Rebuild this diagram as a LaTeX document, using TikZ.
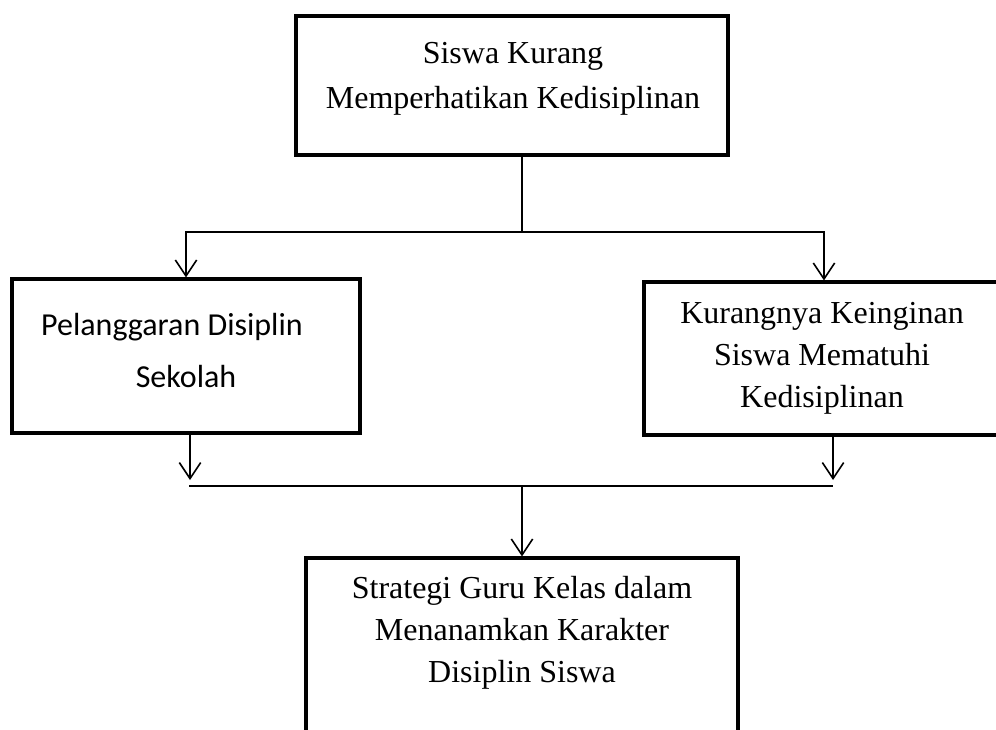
\documentclass[tikz,border=0pt]{standalone}
\usepackage{fontspec}
\setmainfont{Liberation Serif}
\newfontfamily\calibri{Carlito}
\usetikzlibrary{arrows.meta}
\begin{document}
\begin{tikzpicture}[x=0.75pt,y=-0.75pt,
  box/.style={draw, line width=2.4pt, rectangle, inner sep=0pt},
  conn/.style={line width=1.2pt},
  arr/.style={conn, -{Straight Barb[length=12pt,width=16pt,line width=1.2pt]}},
  txt/.style={align=center, inner sep=0pt, anchor=base}
]
\useasboundingbox (0,0) rectangle (996,729);
% boxes
\node[box, minimum width=324pt, minimum height=104.25pt] (top) at (512,85.5) {};
\node[box, minimum width=261pt, minimum height=115.5pt] (left) at (186,356) {};
\node[box, minimum width=270pt, minimum height=114.75pt] (right) at (824,358.5) {};
\node[box, minimum width=324pt, minimum height=181.5pt] (bot) at (522,679) {};
% texts (anchor base = baseline of the last line)
\node[txt, font=\fontsize{24}{33.75}\selectfont] (toptext) at (513,108) {Siswa Kurang\\Memperhatikan Kedisiplinan};
\node[txt, font=\calibri\fontsize{24}{39}\selectfont] (lefttext) at (186,387) {Pelanggaran Disiplin\hspace*{21pt}\\Sekolah};
\node[txt, font=\fontsize{24}{31.5}\selectfont] (righttext) at (822,407) {Kurangnya Keinginan\\Siswa Mematuhi\\Kedisiplinan};
\node[txt, font=\fontsize{24}{31.5}\selectfont] (bottext) at (522,682) {Strategi Guru Kelas dalam\\Menanamkan Karakter\\Disiplin Siswa};
% junctions
\coordinate (j1) at (522,232);
\coordinate (la) at (190,480);
\coordinate (ra) at (833,480);
\coordinate (lb) at (189,486);
\coordinate (rb) at (833,486);
\coordinate (j2) at (522,486);
% connectors
\draw[conn] (top.south -| j1) -- (j1);
\draw[arr] (j1) -| (left.north);
\draw[arr] (j1) -| (right.north);
\draw[arr] (left.south -| la) -- (la);
\draw[arr] (right.south -| ra) -- (ra);
\draw[conn] (lb) -- (rb);
\draw[arr] (j2) -- (bot.north);
\end{tikzpicture}
\end{document}
